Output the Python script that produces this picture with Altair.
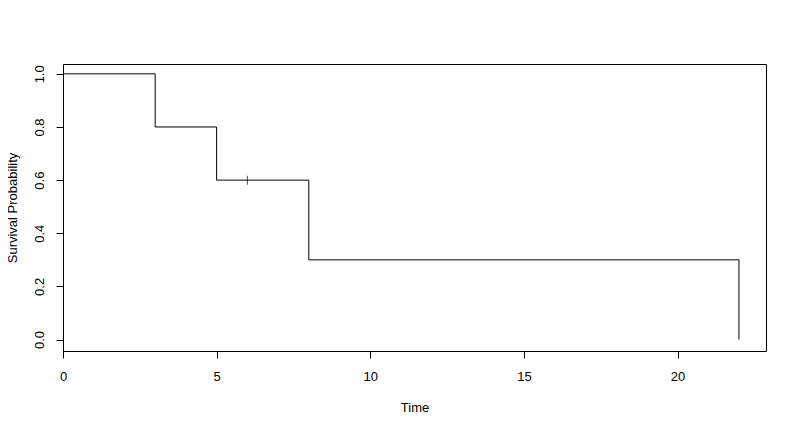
import altair as alt
import pandas as pd

# Kaplan-Meier step points
times = [0, 3, 5, 8, 22, 22]
surv = [1.0, 0.8, 0.6, 0.3, 0.3, 0.0]
# censored observation
censor_time = [6]
censor_surv = [0.6]

x_ticks = [0, 5, 10, 15, 20]
y_ticks = [0.0, 0.2, 0.4, 0.6, 0.8, 1.0]

df = pd.DataFrame({"time": times, "surv": surv, "idx": list(range(len(times)))})
dc = pd.DataFrame({"time": censor_time, "surv": censor_surv})

FONT = "Liberation Sans"

xscale = alt.Scale(domain=[0, 22.88], nice=False, zero=False)
yscale = alt.Scale(domain=[-0.043, 1.037], nice=False, zero=False)

xaxis = alt.Axis(
    values=x_ticks, title="Time", grid=False, domain=False,
    tickColor="black", tickSize=7, tickWidth=1,
    labelFont=FONT, labelFontSize=13, labelColor="black", labelPadding=12,
    labelFlush=False,
    titleFont=FONT, titleFontSize=13, titleFontWeight="normal", titleColor="black",
    titleY=56, titleBaseline="middle",
)
yaxis = alt.Axis(
    values=y_ticks, format=".1f", title="Survival Probability", grid=False, domain=False,
    tickColor="black", tickSize=7, tickWidth=1,
    labelFont=FONT, labelFontSize=13, labelColor="black", labelPadding=10,
    labelAngle=-90, labelAlign="center", labelBaseline="bottom", labelFlush=False,
    titleFont=FONT, titleFontSize=13, titleFontWeight="normal", titleColor="black",
    titleX=-51, titleBaseline="middle",
)

line = alt.Chart(df).mark_line(
    interpolate="step-after", color="black", strokeWidth=1
).encode(
    x=alt.X("time:Q", scale=xscale, axis=xaxis),
    y=alt.Y("surv:Q", scale=yscale, axis=yaxis),
    order="idx:Q",
)

censor = alt.Chart(dc).mark_tick(
    orient="vertical", size=9, thickness=1, color="black"
).encode(
    x=alt.X("time:Q", scale=xscale),
    y=alt.Y("surv:Q", scale=yscale),
)

chart = alt.layer(line, censor).properties(
    width=703, height=287,
    autosize=alt.AutoSizeParams(type="none"),
    padding={"left": 55, "top": 56, "right": 20, "bottom": 70},
    background="white",
).configure_view(stroke="black", strokeWidth=1)

chart.save("out.html", embed_options={"renderer": "svg", "actions": False})
